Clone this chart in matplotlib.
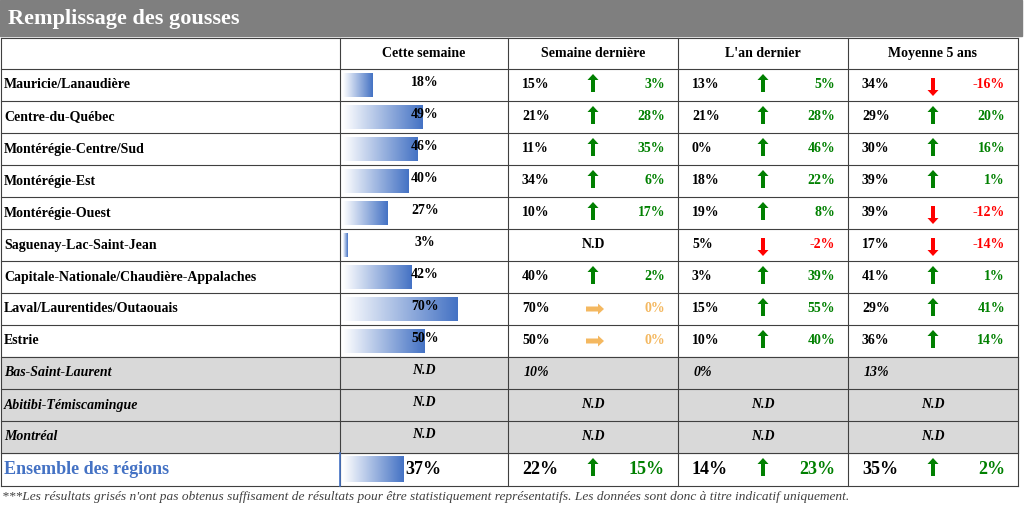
import numpy as np
import matplotlib.pyplot as plt
from matplotlib.colors import LinearSegmentedColormap
from matplotlib.patches import Rectangle, FancyArrow

plt.rcParams['font.family'] = ['Liberation Serif', 'DejaVu Serif']

title = "Remplissage des gousses"
headers = ["Cette semaine", "Semaine dernière", "L'an dernier", "Moyenne 5 ans"]
regions = ["Mauricie/Lanaudière", "Centre-du-Québec", "Montérégie-Centre/Sud", "Montérégie-Est",
           "Montérégie-Ouest", "Saguenay-Lac-Saint-Jean", "Capitale-Nationale/Chaudière-Appalaches",
           "Laval/Laurentides/Outaouais", "Estrie"]
this_week = [18, 49, 46, 40, 27, 3, 42, 70, 50]
last_week = [15, 21, 11, 34, 10, None, 40, 70, 50]
last_year = [13, 21, 0, 18, 19, 5, 3, 15, 10]
avg5 = [34, 29, 30, 39, 39, 17, 41, 29, 36]
grey_regions = ["Bas-Saint-Laurent", "Abitibi-Témiscamingue", "Montréal"]
grey_values = [("10%", "0%", "13%"), None, None]
total_name = "Ensemble des régions"
total = (37, 22, 14, 35)
note = ("***Les résultats grisés n'ont pas obtenus suffisament de résultats pour être statistiquement "
        "représentatifs. Les données sont donc à titre indicatif uniquement.")

GREEN, RED, ORANGE, BLUE = "#008000", "#ff0000", "#f4b860", "#4472c4"
cmap = LinearSegmentedColormap.from_list("g", ["white", BLUE])
grad = np.linspace(0, 1, 256).reshape(1, -1)

fig = plt.figure(figsize=(10.24, 5.3), dpi=100)
ax = fig.add_axes([0, 0, 1, 1])
ax.set_xlim(0, 1024)
ax.set_ylim(530, 0)
ax.axis('off')

# title bar
ax.add_patch(Rectangle((0, 0), 1022, 36, color="#7f7f7f"))
ax.text(8, 19, title, color="white", fontsize=16, fontweight='bold', va='center')

cols = [1, 340, 508, 678, 848, 1018]
top, hh, rh = 38, 31, 32
n_rows = len(regions) + len(grey_regions)
row_tops = [top + hh + i * rh for i in range(n_rows)]
tot_top = top + hh + n_rows * rh
bottom = tot_top + 33

for k, g in enumerate(grey_regions):
    y = row_tops[len(regions) + k]
    ax.add_patch(Rectangle((cols[0], y), cols[-1] - cols[0], rh, color="#d9d9d9", zorder=0))

# grid
for y in [top] + row_tops + [tot_top, bottom]:
    ax.plot([cols[0], cols[-1]], [y, y], color="#404040", lw=0.8)
for x in cols:
    ax.plot([x, x], [top, bottom], color="#404040", lw=0.8)
ax.plot([cols[1], cols[1]], [tot_top, bottom], color=BLUE, lw=1.2)

for j, h in enumerate(headers):
    ax.text((cols[j + 1] + cols[j + 2]) / 2, top + hh / 2, h, ha='center', va='center',
            fontsize=10, fontweight='bold')

px_per_pct = 1.63


def bar(v, yc, h=24):
    ax.imshow(grad, cmap=cmap, aspect='auto',
              extent=(343, 343 + max(v * px_per_pct, 3), yc + h / 2, yc - h / 2), zorder=1)


def arrow(x, yc, kind, scale=1.0):
    if kind == 'up':
        ax.add_patch(FancyArrow(x, yc + 7 * scale, 0, -12 * scale, width=4 * scale, head_width=11 * scale,
                                head_length=6 * scale, color=GREEN, lw=0))
    elif kind == 'down':
        ax.add_patch(FancyArrow(x, yc - 7 * scale, 0, 12 * scale, width=4 * scale, head_width=11 * scale,
                                head_length=6 * scale, color=RED, lw=0))
    else:
        ax.add_patch(FancyArrow(x - 7, yc, 12, 0, width=5, head_width=11,
                                head_length=6, color=ORANGE, lw=0))


def change_cell(j, cur, ref, yc, fs=10, scale=1.0):
    x0 = cols[j]
    ax.text(x0 + 14, yc, f"{ref}%", ha='left', va='center', fontsize=fs, fontweight='bold')
    d = cur - ref
    kind = 'up' if d > 0 else ('down' if d < 0 else 'flat')
    col = {'up': GREEN, 'down': RED, 'flat': ORANGE}[kind]
    arrow(x0 + 85, yc, kind, scale)
    ax.text(x0 + 157, yc, f"{d}%", ha='right', va='center', fontsize=fs, fontweight='bold', color=col)


for i, r in enumerate(regions):
    yc = row_tops[i] + rh / 2
    ax.text(4, yc, r, va='center', fontsize=10, fontweight='bold')
    bar(this_week[i], yc)
    ax.text(425, yc - 2, f"{this_week[i]}%", ha='center', va='center', fontsize=10, fontweight='bold', zorder=3)
    if last_week[i] is None:
        ax.text((cols[2] + cols[3]) / 2, yc, "N.D", ha='center', va='center', fontsize=10, fontweight='bold')
    else:
        change_cell(2, this_week[i], last_week[i], yc)
    change_cell(3, this_week[i], last_year[i], yc)
    change_cell(4, this_week[i], avg5[i], yc)

for k, g in enumerate(grey_regions):
    yc = row_tops[len(regions) + k] + rh / 2
    ax.text(4, yc, g, va='center', fontsize=10, fontweight='bold', style='italic')
    ax.text(424, yc - 2, "N.D", ha='center', va='center', fontsize=10, fontweight='bold', style='italic')
    vals = grey_values[k]
    for j in range(3):
        if vals:
            ax.text(cols[j + 2] + 16, yc, vals[j], va='center', fontsize=10, fontweight='bold', style='italic')
        else:
            ax.text((cols[j + 2] + cols[j + 3]) / 2, yc, "N.D", ha='center', va='center',
                    fontsize=10, fontweight='bold', style='italic')

yc = tot_top + 16
ax.text(4, yc, total_name, va='center', fontsize=13, fontweight='bold', color=BLUE)
bar(total[0], yc, 26)
ax.text(423, yc, f"{total[0]}%", ha='center', va='center', fontsize=13, fontweight='bold', zorder=3)
for j in range(3):
    change_cell(j + 2, total[0], total[j + 1], yc, fs=13, scale=1.0)

ax.text(2, 497, note, va='center', fontsize=9.6, style='italic', color="#404040")

fig.savefig("out.png", dpi=100)
